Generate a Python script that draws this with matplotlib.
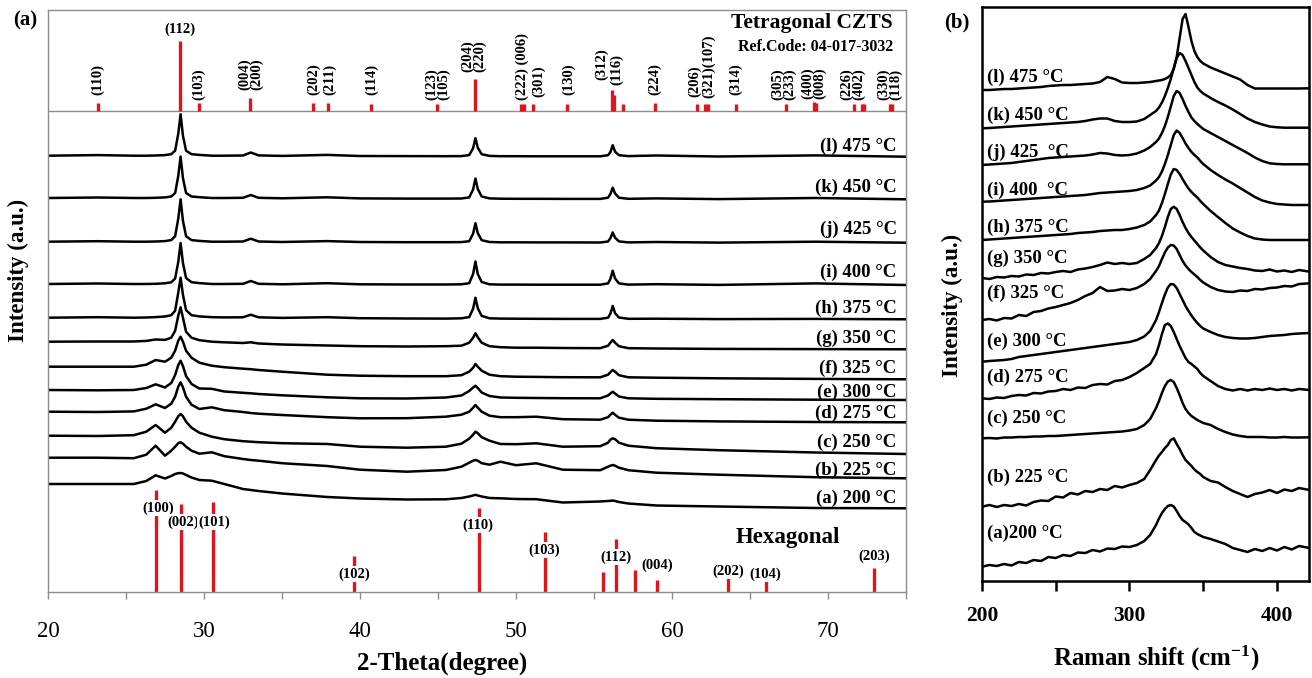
import matplotlib
matplotlib.use("Agg")
import numpy as np
import matplotlib.pyplot as plt

plt.rcParams['font.family'] = ['Liberation Serif', 'DejaVu Serif']
plt.rcParams['mathtext.fontset'] = 'custom'
plt.rcParams['mathtext.rm'] = 'Liberation Serif:bold'
plt.rcParams['mathtext.bf'] = 'Liberation Serif:bold'
plt.rcParams['mathtext.it'] = 'Liberation Serif:bold'

# ---------------- XRD data (panel a) ----------------
two_theta = [20.0, 23.2, 25.5, 26.3, 26.9, 27.5, 27.9, 28.15, 28.35, 28.5, 28.65, 28.85, 29.2, 29.7,
             30.5, 31.3, 32.5, 33.0, 33.5, 35.0, 37.9, 40.0, 43.0, 45.5, 46.5, 47.0, 47.25, 47.4,
             47.55, 47.8, 48.3, 49.0, 50.0, 51.3, 53.0, 55.4, 55.9, 56.05, 56.2, 56.35, 56.6, 57.2,
             59.0, 63.0, 69.2, 75.0]

xrd_l = [0, 0.6, 0, 0, 0.2, 0.6, 1.5, 5, 22, 41.5, 20, 5, 1.5, 0.8, 0, 0, 0.2, 3.2, 0.3, -0.2, 0.8, -0.3, -0.4, -0.5, -0.4, 0.6, 7.5, 17.5, 8, 1.5, -0.2, -0.5, -0.5, -0.6, -0.6, -0.6, 0.5, 3.5, 10.5, 4, 0.5, -0.4, 0.2, -0.8, 0.3, -1.0]
xrd_k = [0, 0.5, 0, 0, 0.2, 0.6, 1.5, 5, 22, 41.5, 20, 5, 1.5, 0.8, 0, 0, 0.2, 3, 0.2, -0.3, 0.7, -0.4, -0.6, -0.6, -0.5, 0.6, 8.5, 19.5, 9, 1.5, -0.4, -0.7, -0.8, -0.8, -0.9, -0.9, 0.3, 4, 10.3, 4.5, 0.3, -0.8, -0.4, -1.1, 0, -1.3]
xrd_j = [0, 0.5, 0, 0, 0.2, 0.6, 1.6, 5.5, 23, 42.4, 21, 5.5, 1.6, 0.8, 0, 0, 0.2, 3, 0.2, -0.3, 0.6, -0.3, -0.5, -0.5, -0.4, 0.5, 8, 18.5, 8.5, 1.5, -0.3, -0.6, -0.6, -0.7, -0.7, -0.8, 0.2, 3.5, 9.3, 4, 0.3, -0.7, -0.3, -0.9, 0, -1.0]
xrd_i = [0, 0.5, 0, 0, 0.2, 0.7, 1.7, 5.5, 22, 41, 21, 6, 1.8, 0.9, 0, 0, 0.2, 3, 0.2, -0.3, 0.8, -0.3, -0.5, -0.5, -0.3, 0.8, 10, 22.5, 10, 2, -0.3, -0.6, -0.6, -0.7, -0.7, -0.7, 0.6, 5, 13.3, 5.5, 0.6, -0.6, -0.2, -0.9, 0.6, -1.0]
xrd_h = [0, 0.5, 0, 0.2, 0.6, 1.2, 2.5, 7, 25, 40, 23, 7.5, 2.5, 1.3, 0.5, 0.3, 0.4, 3, 0.4, -0.2, 0.5, -0.5, -0.8, -0.9, -0.6, 0.6, 9, 20, 9.5, 1.8, -0.6, -0.9, -1.0, -1.1, -1.2, -1.2, 0, 4, 11.8, 4.5, 0.2, -1.1, -1.0, -1.4, -1.2, -1.6]
xrd_g = [0, 0.2, 0.2, 0.8, 2.2, 1.8, 4, 11, 26, 34.4, 24, 10, 4, 1.5, 0, -0.6, -1.3, -0.6, -1.8, -2.8, -3.8, -4.5, -4.8, -4.5, -4, -1, 4, 8.4, 4.5, -1, -4.5, -5.5, -6, -6, -6.3, -6.5, -4, -1, 1.7, -1, -4.5, -6.5, -6.8, -7.2, -7.4, -7.6]
xrd_f = [0, 0, 0, 2, 6.7, 5, 9, 16, 26, 30, 25, 16, 9, 4, 1, -0.5, -2, -2.5, -3.3, -5, -8, -9, -9.5, -9.5, -8.5, -5, -1, 2.7, 0, -4, -8, -9.5, -10, -10.2, -10.5, -10.6, -8, -5.5, -3.3, -5, -8.5, -10.6, -11, -11.6, -12.2, -12.6]
xrd_e = [0, -0.3, 0, 2, 5.7, 2.5, 7, 15, 25, 29.3, 24, 14, 6, 1.5, 1.2, -1.5, -2.8, -3.3, -4, -5.3, -7.3, -8.3, -8.5, -7.5, -5.5, -1, 2.5, 4.3, 2, -2.5, -6, -7.5, -7.8, -8, -8.2, -8.3, -5.5, -3.5, -1.7, -3.5, -6.5, -8.3, -8.8, -9.2, -9.7, -10]
xrd_d = [0, -0.3, 0.3, 3, 7.4, 3.7, 8, 15, 25, 29.4, 24.5, 15, 7, 2.7, 4.4, 1.5, -0.3, -1.3, -2, -3.3, -5.5, -6.6, -6.5, -5, -3, 0, 4, 6.7, 4, 0, -4, -5.5, -5.5, -5, -7.5, -8, -5.5, -3, -1, -3, -6, -8, -9, -9.7, -10.3, -10.6]
xrd_c = [0, -0.3, 0.5, 4, 10.7, 3, 8, 14, 19.5, 21.7, 19.5, 14, 8, 3, -1, -3.5, -5.5, -6, -6.5, -7.5, -8.3, -11, -12, -11, -8, -3, 1, 4, 2.5, -1.5, -5, -8.3, -8.5, -7.6, -11, -10.5, -7, -4, -2.6, -3.5, -7, -10, -12.5, -14.5, -16.8, -18.3]
xrd_b = [0, 0, -0.5, 3, 12, 2, 7, 11, 14.5, 15.4, 14, 11, 7, 4, 5.4, 1.5, -1.3, -2.3, -3, -5.5, -8.3, -12, -14, -12.3, -9, -5, -3, -2.3, -3, -5.5, -7, -4, -7.5, -5.6, -12, -12.5, -9, -8, -7.3, -8, -10, -12.5, -15, -17, -19.5, -20.6]
xrd_a = [0, 0, 0, 3, 8.7, 5.5, 8, 10, 10.8, 11, 10.5, 9, 6.5, 4, 3.3, 0, -5, -6, -7, -9.5, -13, -14.5, -15.5, -15.3, -14, -12.5, -11.5, -10.8, -11.5, -12.5, -14, -14.3, -15, -15.2, -18.5, -17.5, -17, -16.8, -16.5, -17, -18, -19.5, -21.5, -22.5, -24, -24.3]

xrd_series = [xrd_l, xrd_k, xrd_j, xrd_i, xrd_h, xrd_g, xrd_f, xrd_e, xrd_d, xrd_c, xrd_b, xrd_a]
xrd_offsets = [444.3, 402.0, 358.3, 316.0, 282.3, 258.3, 233.3, 210.0, 188.3, 164.3, 142.3, 116.0]
xrd_labels = ['(l) 475 \u00b0C', '(k) 450 \u00b0C', '(j) 425 \u00b0C', '(i) 400 \u00b0C', '(h) 375 \u00b0C',
              '(g) 350 \u00b0C', '(f) 325 \u00b0C', '(e) 300 \u00b0C', '(d) 275 \u00b0C', '(c) 250 \u00b0C',
              '(b) 225 \u00b0C', '(a) 200 \u00b0C']
xrd_label_y = [454, 413, 371, 328, 292, 262, 232, 208, 187, 158, 130, 102]

# Tetragonal CZTS reference (Ref.Code 04-017-3032)
tet_pos = [23.18, 28.48, 29.68, 32.97, 37.0, 37.93, 40.73, 44.94, 47.35, 50.3, 50.5, 51.11, 53.29,
           56.13, 56.25, 56.88, 58.89, 61.6, 62.12, 62.3, 64.12, 67.31, 69.1, 69.25, 71.65, 72.2,
           72.33, 74.0, 74.12]
tet_h = [8, 70, 8, 13, 8, 8, 7, 7, 32, 7, 7, 7, 7, 21, 16, 7, 8, 7, 7, 7, 7, 7, 9, 8, 7, 7, 7, 7, 7]
tet_labels = ['(110)', '(103)', '(004)\n(200)', '(202)', '(211)', '(114)', '(123)\n(105)',
              '(204)\n(220)', '(222) (006)', '(301)', '(130)', '(312)', '(116)', '(224)', '(206)',
              '(321)(107)', '(314)', '(305)\n(233)', '(400)\n(008)', '(226)\n(402)', '(330)\n(118)']
tet_label_x = [23.19, 29.68, 32.99, 37.01, 38.05, 40.77, 44.98, 47.26, 50.43, 51.45, 53.35, 55.49,
               56.45, 58.89, 61.47, 62.33, 64.1, 67.18, 69.1, 71.6, 73.97]
tet_label_y = [505, 500, 510, 505, 505, 505, 500, 528, 500, 503, 505, 520, 515, 505, 503, 502, 505,
               500, 501, 500, 500]

# Hexagonal reference
hex_pos = [26.94, 28.55, 30.55, 39.63, 47.6, 51.84, 55.56, 56.41, 57.63, 59.06, 63.61, 66.05, 72.97]
hex_h = [102, 88, 90, 36, 84, 60, 20, 53, 22, 12, 15, 11, 24]
hex_labels = ['(100)', '(002)', '(101)', '(102)', '(110)', '(103)', '(112)', '(004)', '(202)', '(104)', '(203)']
hex_label_x = [27.05, 28.65, 30.64, 39.6, 47.56, 51.8, 56.4, 59.04, 63.6, 66.0, 72.95]
hex_label_y = [92, 78, 78, 26, 75, 50, 43, 35, 29, 26, 44]

# ---------------- Raman data (panel b) ----------------
raman_shift = [200, 205, 210, 215, 220, 225, 230, 235, 240, 245, 250, 255, 260, 265, 270, 275, 280,
               285, 290, 295, 300, 305, 310, 314, 318, 320, 322, 324, 326, 328, 330, 332, 334, 336,
               338, 340, 342, 344, 346, 348, 350, 355, 360, 365, 370, 375, 380, 385, 390, 395, 400,
               405, 410, 415, 422]

ram_l = [510, 510, 510.5, 511, 511, 511.5, 512, 512.5, 513, 514, 514.5, 515, 515, 515.5, 516, 516.5, 518, 523, 521, 517.5, 517, 517, 517.5,
         518, 519,
         519.5, 520, 521, 522.5, 525, 531, 543, 562, 581, 586, 573, 559, 549, 543, 539, 536.5,
         532.5, 529.5, 526.5, 523.5, 520.5, 515, 511.5, 511.5, 511.5, 511.5, 511.5, 511.5, 511.5,
         511.7]
ram_k = [471.7, 472, 472.5, 473, 473.5, 474, 474.5, 475, 475.5, 476, 476.5, 477, 477.5, 478, 479, 480.5, 481.5, 481.5, 479, 478, 478, 478.5, 481,
         485, 489,
         492.5, 497.5, 504, 512, 521, 532, 542, 547, 545, 539, 532, 525, 518, 512.5, 509, 506.5,
         502, 498, 494.5, 490.5, 486, 481.5, 478, 475.5, 473.5, 472.7, 472.3, 472.3, 472.3,
         472.3]
ram_j = [435, 435.5, 436, 436.5, 437, 438, 439, 440, 441, 442, 442.5, 443, 443.5, 444, 444.5, 445.5, 447, 446.5, 445, 444.5, 445, 446.5, 449.5,
         453, 458,
         461.5, 467, 474, 483, 493.5, 504, 509, 507, 501, 494, 488, 482.5, 479, 476, 473.5, 471,
         467, 463, 459, 455, 451, 447, 442.5, 439, 436.7, 436, 435.7, 435.7, 435.7,
         435.7]
ram_i = [398.3, 398.5, 399, 399.5, 400, 400.5, 401, 401.5, 402, 402.5, 403, 403.5, 404, 404.5, 405, 406, 407, 407.5, 408, 408.5, 409, 410, 412,
         414.5, 419.5,
         423, 428.5, 436, 445, 455, 465, 469.5, 467, 462, 456.5, 452, 448, 445, 442.5, 439, 436,
         430, 425, 420.5, 416.5, 412, 407.5, 403, 399.5, 397.5, 396, 395.5, 395, 395,
         395]
ram_h = [360, 360.5, 361, 361.5, 362, 362.5, 363, 363.5, 364, 364.5, 365, 365.5, 366, 367, 367.5, 368, 369, 369.5, 370, 370, 371, 372.5, 375,
         378.5, 385,
         389.5, 397, 406, 416, 425.5, 431, 430, 426, 421, 416, 411.5, 408, 405, 402.5, 399, 396,
         389, 383, 377, 371.5, 367.5, 364, 361.5, 360.5, 360, 360, 360, 360, 360,
         360]
ram_g = [322, 321, 323, 322.5, 324, 323.5, 325.5, 325, 327, 326.5, 328, 329, 328, 330.5, 331.5, 333, 335, 337.5, 336, 337, 336, 337, 341,
         345, 352,
         357, 364, 373, 383, 391, 393.3, 391, 385, 378, 372, 367, 363, 359.5, 356, 352.5, 349.5,
         343, 338, 335, 333.5, 332, 331, 329.5, 329, 330.5, 328.5, 329.5, 328, 330,
         328.3]
ram_f = [280, 281, 279.5, 282, 281.5, 285, 284, 288, 289, 291.5, 293, 295, 297, 300, 304, 307, 313, 309, 309.5, 311, 310, 312, 316,
         321, 329,
         334, 341, 347.5, 352.5, 355, 354.5, 351, 345, 339, 334.5, 331, 328, 325.5, 323, 320, 317.5,
         313, 310, 308.5, 308, 309.5, 309, 311, 310.5, 312, 312.5, 314, 313.5, 316,
         316.7]
ram_e = [238.3, 239, 239.5, 240, 241, 243, 244, 245, 246, 247, 248, 249, 250, 251, 252, 253, 254, 255, 256, 257, 258, 260, 263.5,
         269, 280,
         288, 297, 305.5, 312.5, 316, 315.5, 312, 306, 300, 294, 289, 284.5, 280.5, 277, 274, 271.5,
         268, 265, 263, 262, 261.5, 261.5, 262, 263, 264, 264.5, 265, 266, 266.5,
         267]
ram_d = [201.7, 201, 202.5, 202, 204, 205, 204.5, 207, 206.5, 208.5, 209, 211, 210, 212.5, 212, 215, 216, 215.5, 219, 220, 223, 227, 232,
         236, 246,
         255, 266, 275, 276.5, 274, 268, 261, 254, 248, 242, 238, 236, 233.5, 231, 227, 224,
         219, 214, 211, 209.5, 211, 209.5, 211, 210, 211.5, 210, 211, 209.5, 211,
         210]
ram_c = [161.7, 162, 161.5, 162.5, 162.5, 163, 163, 163.5, 163.5, 164, 164, 164.5, 165, 165.5, 166, 166.5, 167, 167.5, 168, 168.5, 169.5, 171, 175,
         181, 192,
         199, 207, 214, 218.5, 220, 218, 212, 205, 197, 191, 187, 184, 182, 180, 178.5, 177,
         175, 171, 168, 165.5, 164, 163, 163, 163, 162.5, 162.5, 163, 162.5, 162.5,
         162.7]
ram_b = [93.3, 95, 93, 95, 94, 96, 94.5, 98, 99.5, 99, 103.5, 102.5, 107, 105.5, 109, 108, 111, 110, 114, 112.5, 115, 117, 121,
         130, 140,
         144.5, 148, 152, 155, 160, 161.7, 156, 151, 145, 140, 137, 134, 130.5, 128, 126, 123,
         119, 117.5, 113, 109, 106, 103, 106, 107.5, 110, 107, 110.5, 109, 112,
         110]
ram_a = [33.3, 35, 34, 36, 34.5, 38, 37, 40, 39, 43, 42, 45, 44, 47.5, 47, 50, 48.5, 51.5, 51, 53.5, 53, 55, 59,
         65, 75,
         81.5, 87, 91, 94, 95, 93.5, 89, 84, 80, 78, 75.5, 72, 68, 66, 64.5, 63,
         61, 58.5, 56, 52, 50, 48, 51, 49, 52, 49.5, 53, 50.5, 54,
         52]

raman_series = [ram_l, ram_k, ram_j, ram_i, ram_h, ram_g, ram_f, ram_e, ram_d, ram_c, ram_b, ram_a]
raman_labels = ['(l) 475 \u00b0C', '(k) 450 \u00b0C', '(j) 425  \u00b0C', '(i) 400  \u00b0C', '(h) 375 \u00b0C',
                '(g) 350 \u00b0C', '(f) 325 \u00b0C', '(e) 300 \u00b0C', '(d) 275 \u00b0C', '(c) 250 \u00b0C',
                '(b) 225 \u00b0C', '(a)200 \u00b0C']
raman_label_y = [523, 485, 448, 410, 373, 342, 307, 259, 223, 182, 123, 67]

# ---------------- Figure ----------------
W, H = 1312, 678
fig = plt.figure(figsize=(W / 100, H / 100), dpi=100)
fig.patch.set_facecolor('white')
RED = '#e3131b'
GRAY = '#8c8c8c'

# Panel (a)
axA = fig.add_axes([48 / W, 1 - 592 / H, (906 - 48) / W, (592 - 10) / H])
axA.set_xlim(20, 75)
axA.set_ylim(8, 590)
for s in axA.spines.values():
    s.set_color(GRAY)
    s.set_linewidth(1.0)
axA.set_xticks([20, 30, 40, 50, 60, 70])
axA.set_xticks([25, 35, 45, 55, 65, 75], minor=True)
axA.tick_params(axis='x', which='both', direction='out', length=5, width=1, color=GRAY,
                labelsize=16.5, pad=16)
axA.tick_params(axis='y', which='both', left=False, labelleft=False)

axA.axhline(489, color=GRAY, lw=1.0)

for vals, off, lab, ly in zip(xrd_series, xrd_offsets, xrd_labels, xrd_label_y):
    axA.plot(two_theta, np.array(vals) + off, color='black', lw=1.8, solid_joinstyle='round')
    axA.text(74.4, ly, lab, ha='right', va='center', fontsize=13.5, fontweight='bold')

# tetragonal sticks
axA.vlines(tet_pos, 489, [489 + h for h in tet_h], color=RED, lw=2.4)
axA.text(28.46, 571, '(112)', ha='center', va='center', fontsize=10.5, fontweight='bold')
for lab, lx, ly in zip(tet_labels, tet_label_x, tet_label_y):
    axA.text(lx, ly, lab, rotation=90, ha='center', va='bottom', fontsize=10.5,
             fontweight='bold', linespacing=0.85)
axA.text(74.17, 577, 'Tetragonal CZTS', ha='right', va='center', fontsize=15.5, fontweight='bold')
axA.text(74.17, 553, 'Ref.Code: 04-017-3032', ha='right', va='center', fontsize=11.5, fontweight='bold')

# hexagonal sticks
axA.vlines(hex_pos, 8, [8 + h for h in hex_h], color=RED, lw=2.4, zorder=2)
for lab, lx, ly in zip(hex_labels, hex_label_x, hex_label_y):
    axA.text(lx, ly, lab, ha='center', va='center', fontsize=10.5, fontweight='bold', zorder=4,
             bbox=dict(facecolor='white', edgecolor='none', pad=0.6))
axA.text(67.4, 63, 'Hexagonal', ha='center', va='center', fontsize=16.5, fontweight='bold')

# Panel (b)
axB = fig.add_axes([982 / W, 1 - 581 / H, (1309 - 982) / W, (581 - 7) / H])
axB.set_xlim(200, 421.7)
axB.set_ylim(19, 593)
for s in axB.spines.values():
    s.set_color('black')
    s.set_linewidth(1.8)
axB.set_xticks([200, 300, 400])
axB.set_xticks([250, 350], minor=True)
axB.tick_params(axis='x', which='both', direction='out', length=7, width=1.8, labelsize=15.5, pad=11)
axB.tick_params(axis='y', which='both', left=False, labelleft=False)
for t in axB.get_xticklabels():
    t.set_fontweight('bold')

for vals, lab, ly in zip(raman_series, raman_labels, raman_label_y):
    axB.plot(raman_shift, vals, color='black', lw=1.8, solid_joinstyle='round')
    axB.text(203.5, ly, lab, ha='left', va='center', fontsize=13.5, fontweight='bold')

# Figure-level text
fig.text(25 / W, 1 - 20 / H, '(a)', ha='center', va='center', fontsize=15, fontweight='bold')
fig.text(957 / W, 1 - 22 / H, '(b)', ha='center', va='center', fontsize=15, fontweight='bold')
fig.text(442 / W, 1 - 663 / H, '2-Theta(degree)', ha='center', va='center', fontsize=18, fontweight='bold')
fig.text(1156 / W, 1 - 658 / H, r'Raman shift (cm$^{-1}$)', ha='center', va='center',
         fontsize=18, fontweight='bold')
fig.text(18 / W, 1 - 270 / H, 'Intensity (a.u.)', rotation=90, ha='center', va='center',
         fontsize=16.5, fontweight='bold')
fig.text(952 / W, 1 - 305 / H, 'Intensity (a.u.)', rotation=90, ha='center', va='center',
         fontsize=16.5, fontweight='bold')

fig.savefig('out.png', dpi=100, facecolor='white')
